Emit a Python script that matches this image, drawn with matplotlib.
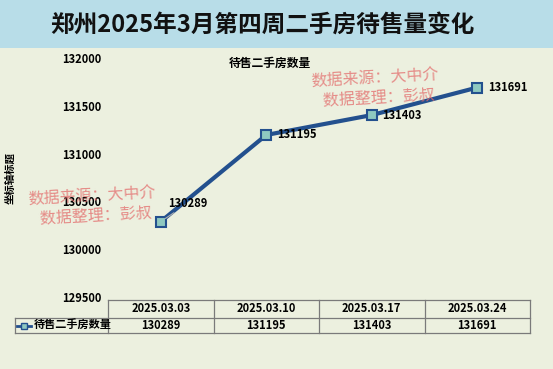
import matplotlib.pyplot as plt
from matplotlib.lines import Line2D
from matplotlib.transforms import blended_transform_factory

plt.rcParams['font.family'] = ['Noto Sans CJK SC', 'DejaVu Sans']

# data
dates = ['2025.03.03', '2025.03.10', '2025.03.17', '2025.03.24']
counts = [130289, 131195, 131403, 131691]
series_name = '待售二手房数量'
yticks = [129500, 130000, 130500, 131000, 131500, 132000]

W, H = 553, 369
fig = plt.figure(figsize=(W / 100, H / 100), dpi=100)
fig.patch.set_facecolor('#ecf0df')


def fx(px):
    return px / W


def fy(py):
    return 1 - py / H


# title band
fig.patches.append(plt.Rectangle((0, fy(48)), 1, 48 / H, transform=fig.transFigure,
                                 facecolor='#b8dde8', edgecolor='none', zorder=0))
fig.text(0.475, fy(25), '郑州2025年3月第四周二手房待售量变化', ha='center', va='center',
         fontsize=17, fontweight='bold', color='#111111')

ax = fig.add_axes([fx(108), fy(297), fx(530) - fx(108), fy(58) - fy(297)])
ax.set_facecolor('none')
x = list(range(len(dates)))
ax.plot(x, counts, color='#23508e', lw=3, marker='s', markersize=7,
        markerfacecolor='#8ec8c0', markeredgecolor='#23508e', markeredgewidth=1.5, zorder=3)
ax.set_xlim(-0.5, len(dates) - 0.5)
ax.set_ylim(129500, 132000)
ax.set_yticks(yticks)
ax.set_yticklabels([str(v) for v in yticks], fontsize=8, fontweight='bold')
ax.tick_params(axis='y', length=0, pad=5)
ax.set_xticks([])
for s in ax.spines.values():
    s.set_visible(False)

# data labels
for i, v in enumerate(counts):
    if i == 0:
        ax.annotate(str(v), (i, v), xytext=(i + 0.07, v + 190), fontsize=8, fontweight='bold',
                    ha='left', va='center',
                    arrowprops=dict(arrowstyle='-', color='#b0b0b0', lw=0.8, shrinkA=0, shrinkB=4))
    else:
        ax.text(i + 0.1, v, str(v), fontsize=8, fontweight='bold', ha='left', va='center')

fig.text(fx(270), fy(63), series_name, ha='center', va='center', fontsize=8.5, fontweight='bold')
fig.text(fx(10), fy(178), '坐标轴标题', rotation=90, ha='center', va='center',
         fontsize=7.5, fontweight='bold')

# data table drawn under the axis
tr = blended_transform_factory(ax.transData, fig.transFigure)
grid = dict(color='#7a7a7a', lw=0.9, clip_on=False, transform=tr)
n = len(dates)
y_top, y_mid, y_bot = fy(300), fy(318), fy(333)
key_left = ax.transData.inverted().transform(fig.transFigure.transform((fx(15), 0)))[0]
ax.add_line(Line2D([-0.5, n - 0.5], [y_top, y_top], **grid))
ax.add_line(Line2D([key_left, n - 0.5], [y_mid, y_mid], **grid))
ax.add_line(Line2D([key_left, n - 0.5], [y_bot, y_bot], **grid))
ax.add_line(Line2D([key_left, key_left], [y_mid, y_bot], **grid))
for i in range(n + 1):
    ax.add_line(Line2D([i - 0.5, i - 0.5], [y_top, y_bot], **grid))
for i in range(n):
    ax.text(i, (y_top + y_mid) / 2, dates[i], transform=tr, ha='center', va='center',
            fontsize=8, fontweight='bold')
    ax.text(i, (y_mid + y_bot) / 2, str(counts[i]), transform=tr, ha='center', va='center',
            fontsize=8, fontweight='bold')

# legend key inside the row label cell
fig.lines.append(Line2D([fx(17), fx(24), fx(31)], [fy(325.5)] * 3, transform=fig.transFigure,
                        color='#23508e', lw=2, marker='s', markersize=5, markevery=[1],
                        markerfacecolor='#8ec8c0', markeredgecolor='#23508e'))
fig.text(fx(34), fy(325.5), series_name, ha='left', va='center', fontsize=8, fontweight='bold')

# watermarks
for (wx, wy) in [(92, 206), (375, 88)]:
    fig.text(fx(wx), fy(wy), '数据来源：大中介\n  数据整理：彭叔', ha='center', va='center',
             fontsize=11.5, color='#e36a6a', alpha=0.75, rotation=3, linespacing=1.15)

fig.savefig('out.png', dpi=100, facecolor=fig.get_facecolor())
